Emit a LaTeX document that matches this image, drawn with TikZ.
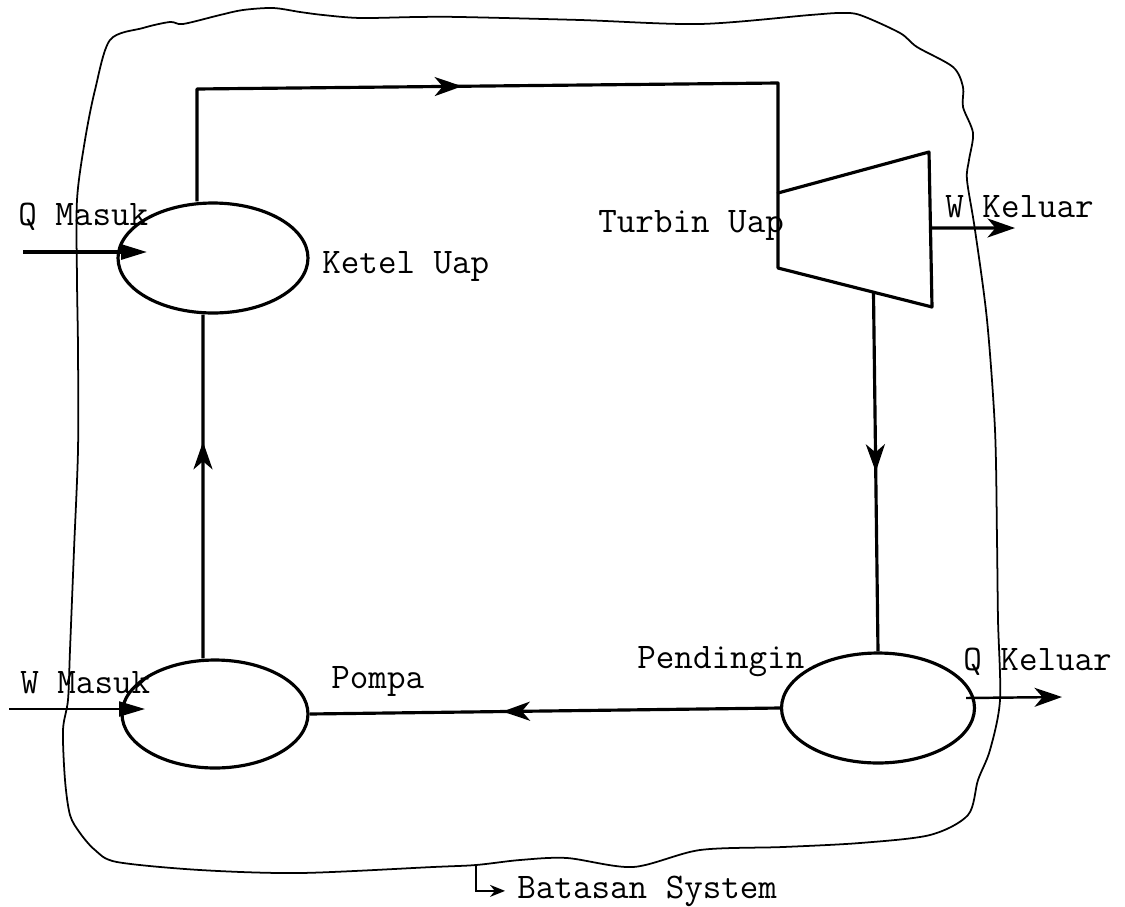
\documentclass[tikz,border=0pt]{standalone}
\usetikzlibrary{shapes.geometric, arrows.meta, positioning, decorations.markings, calc}

\begin{document}
\begin{tikzpicture}[
  x=0.02cm, y=-0.02cm,
  vessel/.style={draw, ellipse, line width=1.8pt, inner sep=0pt},
  lbl/.style={font=\fontsize{20.5}{24}\selectfont\ttfamily, inner sep=0pt, anchor=base west},
  flow/.style={line width=1.8pt, line join=round},
  headed/.style={-{Stealth[length=5.5mm, width=3.8mm, inset=1.6mm]}},
  filled/.style={-{Triangle[length=5.2mm, width=3mm]}},
  arrowat/.style={postaction={decorate}, decoration={markings, mark=at position #1 with {\arrow{Stealth[length=5.5mm, width=3.8mm, inset=1.6mm]}}}},
  border/.style={line width=1pt, line join=round}
]
\useasboundingbox (0,0) rectangle (1125,906);

% boundary of the system
\draw[border] plot[smooth cycle, tension=0.5] coordinates {
  (110,40) (143,28) (170,22) (183,24) (220,15) (243,10) (273,8) (300,12)
  (323,15) (360,18) (417,17) (460,17) (580,20) (700,24) (810,15) (840,13)
  (860,15) (900,33) (917,47) (953,67) (963,87) (963,107) (973,133) (969,160)
  (967,180) (975,230) (987,320) (995,430) (997,540) (998,620) (1000,700)
  (990,750) (978,780) (968,815) (930,835) (860,843) (783,847) (700,850)
  (633,867) (567,858) (520,860) (476,865) (433,867) (300,873) (200,870)
  (117,862) (95,850) (80,833) (70,815) (65,780) (63,730) (68,700) (70,650)
  (74,550) (78,450) (78,350) (77,280) (77,200) (85,140) (95,90)};

% components
\node[vessel, minimum width=3.8cm, minimum height=2.2cm] (ketel) at (213,258) {};
\node[vessel, minimum width=3.72cm, minimum height=2.16cm] (pompa) at (215,714) {};
\node[vessel, minimum width=3.86cm, minimum height=2.2cm] (pendingin) at (878,708) {};
\coordinate (t1) at (778,193);
\coordinate (t2) at (929,152);
\coordinate (t3) at (932,307);
\coordinate (t4) at (778,268);
\draw[flow] (t1) -- (t2) -- (t3) -- (t4) -- cycle;

% cycle
\coordinate (c1) at (197,89);
\coordinate (c2) at (778,83);
\coordinate (tb) at ($(t4)!0.62!(t3)$);
\draw[flow, arrowat=0.47] ([xshift=-3.2mm]ketel.north) -- (c1) -- (c2) -- (t1);
\draw[flow, arrowat=0.5] (tb) -- (pendingin.north);
\draw[flow, arrowat=0.59] (pendingin.west) -- (pompa.east);
\draw[flow, arrowat=0.63] ([xshift=-2.4mm]pompa.north) -- ([xshift=-2mm]ketel.south);

% heat and work
\coordinate (qin) at (23,252);
\coordinate (qtip) at (147,252);
\coordinate (win) at (9,709);
\coordinate (wtip) at (145,709);
\coordinate (tr) at ($(t2)!0.49!(t3)$);
\coordinate (wout) at (1015,228);
\coordinate (qout) at (1062,697);
\draw[flow, filled] (qin) -- (qtip);
\draw[line width=1.2pt, filled] (win) -- (wtip);
\draw[flow, headed] (tr) -- (wout);
\draw[line width=1.4pt, headed] ([shift={(-2mm,2mm)}]pendingin.east) -- (qout);

% labels
\node[lbl] (qmasuk) at (18,225) {Q Masuk};
\node[lbl] (wmasuk) at (20,693) {W Masuk};
\node[lbl] (ketellbl) at (322,273) {Ketel Uap};
\node[lbl] (turbinlbl) at (598,232) {Turbin Uap};
\node[lbl] (wkeluar) at (945,217) {W Keluar};
\node[lbl] (pompalbl) at (331,688) {Pompa};
\node[lbl] (pendinginlbl) at (637,668) {Pendingin};
\node[lbl] (qkeluar) at (963,670) {Q Keluar};
\node[lbl] (batasan) at (517,898) {Batasan System};
\coordinate (bnd) at (476,865);
\draw[line width=1pt, -{Stealth[length=3mm, width=2.4mm]}] (bnd) |- ([xshift=-2.4mm]batasan.west);
\end{tikzpicture}
\end{document}
